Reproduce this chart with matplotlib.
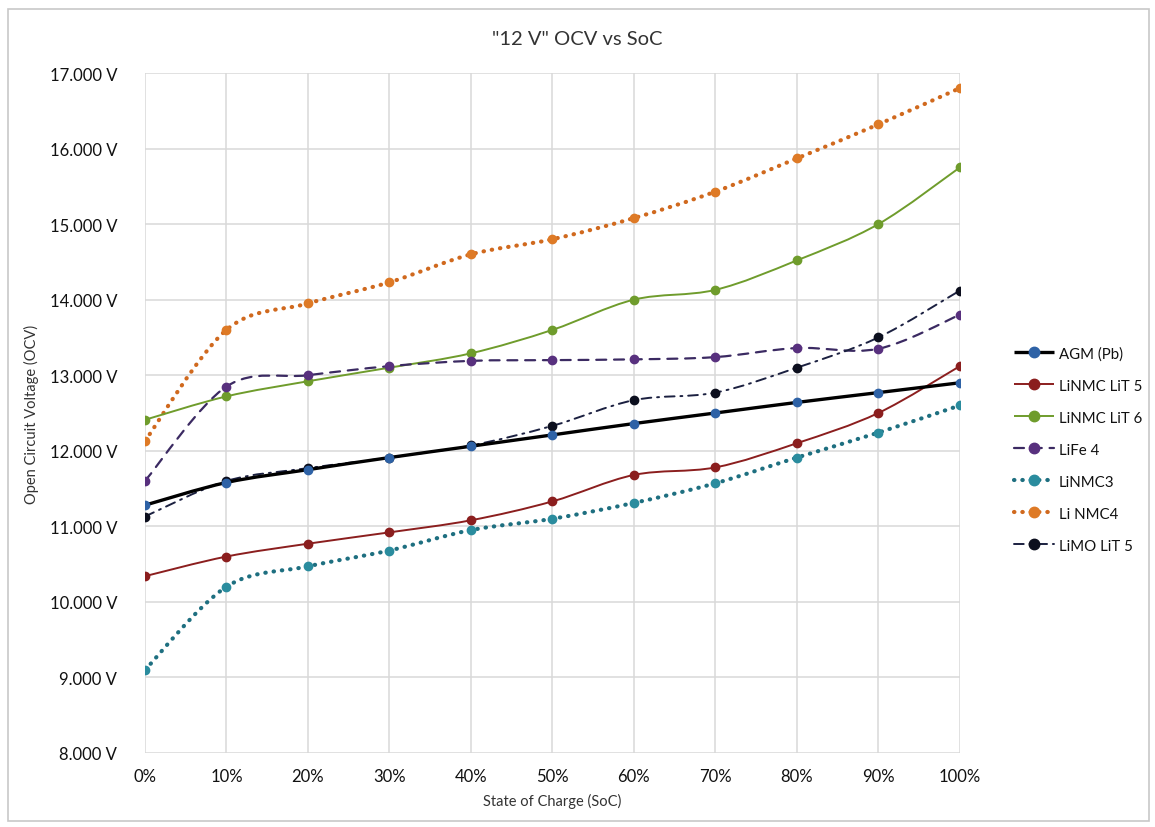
import numpy as np
import matplotlib
matplotlib.use("Agg")
import matplotlib.pyplot as plt
from matplotlib.path import Path
from matplotlib.patches import PathPatch, Rectangle
from matplotlib.lines import Line2D

plt.rcParams["font.family"] = ["Lato", "DejaVu Sans"]

# ─── data ──────────────────────────────────────────────────────────────
SOC = [0, 10, 20, 30, 40, 50, 60, 70, 80, 90, 100]
X_LABELS = [f"{s}%" for s in SOC]

agm       = [11.28, 11.58, 11.75, 11.91, 12.06, 12.21, 12.36, 12.50, 12.64, 12.77, 12.90]
linmc_lit5 = [10.34, 10.60, 10.77, 10.92, 11.08, 11.33, 11.68, 11.78, 12.10, 12.50, 13.12]
linmc_lit6 = [12.41, 12.72, 12.92, 13.10, 13.29, 13.60, 14.00, 14.13, 14.52, 15.00, 15.75]
life4     = [11.60, 12.85, 13.00, 13.12, 13.19, 13.20, 13.21, 13.24, 13.36, 13.35, 13.80]
linmc3    = [9.10, 10.20, 10.47, 10.68, 10.95, 11.10, 11.31, 11.57, 11.91, 12.24, 12.60]
li_nmc4   = [12.13, 13.60, 13.95, 14.23, 14.60, 14.80, 15.08, 15.43, 15.87, 16.32, 16.80]
limo_lit5 = [11.13, 11.60, 11.77, 11.91, 12.07, 12.33, 12.67, 12.77, 13.10, 13.50, 14.12]

Y_TICKS = [8, 9, 10, 11, 12, 13, 14, 15, 16, 17]

# name, values, line colour, marker colour, lw, linestyle, z
SERIES = [
    ("AGM (Pb)",     agm,        "#000000", "#2E62A6", 2.4, "-",                  6),
    ("LiNMC LiT 5",  linmc_lit5, "#8B1E1E", "#8B1E1E", 1.4, "-",                  4),
    ("LiNMC LiT 6",  linmc_lit6, "#6F9C2C", "#6F9C2C", 1.4, "-",                  4),
    ("LiFe 4",       life4,      "#3B2A62", "#58307E", 1.6, (0, (4.5, 3.5)),      4),
    ("LiNMC3",       linmc3,     "#1E6F80", "#2A8C9E", 3.0, (0, (0.1, 1.9)),      3),
    ("Li NMC4",      li_nmc4,    "#D0691E", "#DE7A26", 3.0, (0, (0.1, 1.9)),      3),
    ("LiMO LiT 5",   limo_lit5,  "#1B2040", "#0C0F1E", 1.4, (0, (5, 3, 1, 3)),    5),
]


def smooth_path(xs, ys):
    # Excel-style smoothed line: cubic Bezier through every point
    pts = np.column_stack([xs, ys]).astype(float)
    verts, codes = [pts[0]], [Path.MOVETO]
    n = len(pts)
    for i in range(n - 1):
        p0 = pts[max(i - 1, 0)]
        p1, p2 = pts[i], pts[i + 1]
        p3 = pts[min(i + 2, n - 1)]
        c1 = p1 + (p2 - p0) / 6.0
        c2 = p2 - (p3 - p1) / 6.0
        verts += [c1, c2, p2]
        codes += [Path.CURVE4] * 3
    return Path(verts, codes)


fig = plt.figure(figsize=(11.55, 8.28), dpi=100)
fig.patches.append(Rectangle((0.007, 0.007), 0.988, 0.981, transform=fig.transFigure,
                             fill=False, edgecolor="#C8C8C8", lw=1.2))
ax = fig.add_axes([0.1255, 0.0894, 0.7055, 0.8212])

handles = []
for name, vals, lc, mc, lw, ls, z in SERIES:
    patch = PathPatch(smooth_path(SOC, vals), fill=False, edgecolor=lc, lw=lw,
                      linestyle=ls, capstyle="round", joinstyle="round", zorder=z)
    ax.add_patch(patch)
    ax.plot(SOC, vals, "o", ms=6, color=mc, mec=mc, zorder=z + 0.5)
    handles.append(Line2D([], [], color=lc, lw=lw, ls=ls, marker="o", ms=7.5,
                          mfc=mc, mec=mc, dash_capstyle="round", solid_capstyle="butt"))

ax.set_xlim(0, 100)
ax.set_ylim(8, 17)
ax.set_xticks(SOC)
ax.set_xticklabels(X_LABELS)
ax.set_yticks(Y_TICKS)
ax.set_yticklabels([f"{v:.3f} V" for v in Y_TICKS])
ax.tick_params(length=0, labelsize=12, colors="#111111")
ax.tick_params(axis="y", pad=20)
ax.tick_params(axis="x", pad=11)
ax.grid(True, color="#D9D9D9", lw=1.1)
ax.set_axisbelow(True)
for sp in ax.spines.values():
    sp.set_visible(False)

ax.set_xlabel("State of Charge (SoC)", fontsize=10.5, color="#333333", labelpad=6)
ax.set_ylabel("Open Circuit Voltage (OCV)", fontsize=10.5, color="#333333", labelpad=8)
fig.text(0.5, 0.952, '"12 V" OCV vs SoC', ha="center", va="center",
         fontsize=14.5, color="#333333")

fig.legend(handles, [s[0] for s in SERIES], loc="upper left",
           bbox_to_anchor=(0.866, 0.597), frameon=False, fontsize=10.8,
           handlelength=2.7, handletextpad=0.3, labelspacing=1.2,
           labelcolor="#111111")

fig.savefig("out.png", dpi=100)
